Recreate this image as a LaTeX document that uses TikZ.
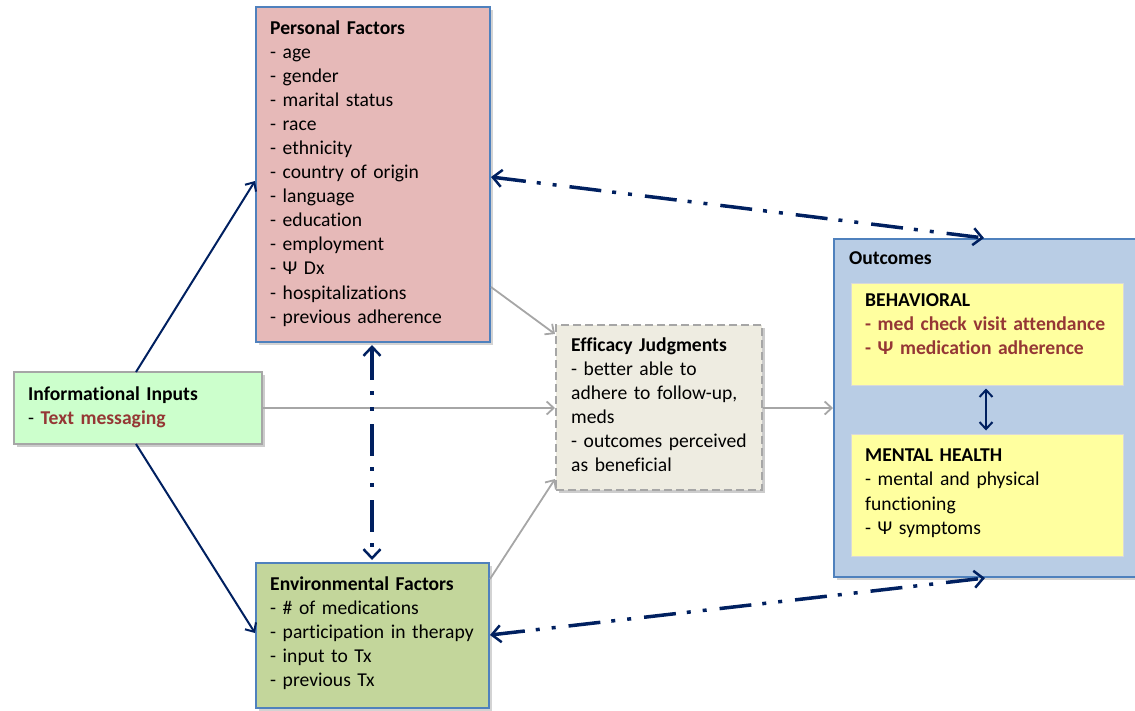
\documentclass[tikz,border=0pt]{standalone}
\usepackage{fontspec}
\setmainfont{Carlito}[Ligatures=NoCommon]
\usetikzlibrary{arrows.meta,shadows}
\definecolor{navy}{HTML}{002060}
\definecolor{bordblue}{HTML}{4F81BD}
\definecolor{lgray}{HTML}{A6A6A6}
\definecolor{pfill}{HTML}{E6B9B8}
\definecolor{ifill}{HTML}{CCFFCC}
\definecolor{efill}{HTML}{EEECE1}
\definecolor{envfill}{HTML}{C3D69B}
\definecolor{ofill}{HTML}{B9CDE5}
\definecolor{yfill}{HTML}{FFFF9F}
\definecolor{dred}{HTML}{953735}
\tikzset{
  box/.style={draw=bordblue, line width=2pt, inner sep=0pt,
    drop shadow={shadow xshift=2.5pt, shadow yshift=-2.5pt, opacity=0.35}},
  graybox/.style={draw=lgray, line width=2pt, inner sep=0pt,
    drop shadow={shadow xshift=3pt, shadow yshift=-3pt, opacity=0.4}},
  ybox/.style={draw=black!15, line width=1pt, fill=yfill, inner sep=0pt},
  txt/.style={anchor=north west, inner sep=0pt, text width=#1, align=left,
    font=\fontsize{19.6}{24.05}\selectfont},
  navyarrow/.style={draw=navy, line width=2pt, -{Straight Barb[length=7pt,width=13pt]}},
  grayarrow/.style={draw=lgray, line width=1.8pt, -{Straight Barb[length=7pt,width=13pt]}},
  dashdot/.style={draw=navy, line width=3.5pt,
    dash pattern=on 32pt off 11pt on 4pt off 12pt on 4pt off 13pt,
    {Straight Barb[length=9pt,width=17pt,line width=2.5pt]}-{Straight Barb[length=9pt,width=17pt,line width=2.5pt]}}
}
\begin{document}
\begin{tikzpicture}[x=1pt,y=-1pt]
\useasboundingbox (0,0) rectangle (1135,710);
% boxes
\node[box, fill=pfill, minimum width=234pt, minimum height=335pt] (pers) at (373,174.5) {};
\node[graybox, fill=ifill, minimum width=248pt, minimum height=72pt] (info) at (138,408) {};
\node[graybox, draw=lgray, dashed, dash pattern=on 8pt off 4pt, fill=efill, minimum width=206pt, minimum height=165pt] (eff) at (659,407.5) {};
\node[box, fill=envfill, minimum width=233pt, minimum height=145pt] (env) at (372.5,635.5) {};
\node[box, fill=ofill, minimum width=330pt, minimum height=338pt] (out) at (999,408) {};
\node[ybox, minimum width=272pt, minimum height=102pt] (beh) at (987,334) {};
\node[ybox, minimum width=272pt, minimum height=122pt] (mh) at (987,495) {};
% texts
\node[txt=230pt] (perst) at (270,20.5) {\textbf{Personal Factors}\\- age\\- gender\\- marital status\\- race\\- ethnicity\\- country of origin\\- language\\- education\\- employment\\- Ψ Dx\\- hospitalizations\\- previous adherence};
\node[txt=230pt] (infot) at (28,386.5) {\textbf{Informational Inputs}\\- \textcolor{dred}{\textbf{Text messaging}}};
\node[txt=200pt] (efft) at (571,337.5) {\textbf{Efficacy Judgments}\\- better able to\\adhere to follow-up,\\meds\\- outcomes perceived\\as beneficial};
\node[txt=230pt] (envt) at (270,576.5) {\textbf{Environmental Factors}\\- \# of medications\\- participation in therapy\\- input to Tx\\- previous Tx};
\node[txt=230pt] (outt) at (849,251.5) {\textbf{Outcomes}};
\node[txt=260pt] (beht) at (865,293.5) {\textbf{BEHAVIORAL}\\\textcolor{dred}{\textbf{- med check visit attendance}}\\\textcolor{dred}{\textbf{- Ψ medication adherence}}};
\node[txt=260pt] (mht) at (865,449) {\textbf{MENTAL HEALTH}\\- mental and physical\\functioning\\- Ψ symptoms};
% connectors
\coordinate (infoT) at (136,372);
\coordinate (infoB) at (136,444);
\draw[navyarrow] (infoT) -- (pers.west |- 0,181);
\draw[navyarrow] (infoB) -- (env.west |- 0,633);
\draw[grayarrow] (info.east) -- (eff.west |- info.east);
\draw[grayarrow] (pers.east |- 0,287) -- ([yshift=-10pt]eff.north west);
\draw[grayarrow] (env.east |- 0,579) -- ([yshift=12pt]eff.south west);
\draw[grayarrow] (eff.east |- 0,408) -- (out.west |- 0,408);
\draw[navyarrow, {Straight Barb[length=7pt,width=13pt]}-{Straight Barb[length=7pt,width=13pt]}] ([yshift=-3pt]beh.south -| 986,0) -- ([yshift=3pt]mh.north -| 986,0);
\draw[dashdot] ([yshift=-2pt]pers.south -| 372,0) -- ([yshift=2pt]env.north -| 372,0);
\draw[dashdot] (pers.east |- 0,177) -- (out.north -| 984,0);
\draw[dashdot] (env.east |- 0,635) -- (out.south -| 985,0);
\end{tikzpicture}
\end{document}
